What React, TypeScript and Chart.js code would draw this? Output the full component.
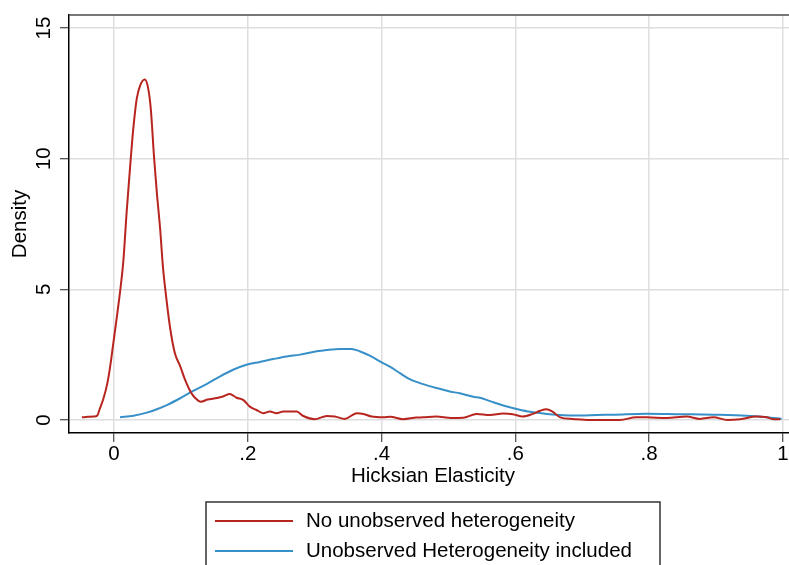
import React, { useEffect, useRef } from "react";
import { Chart, registerables } from "chart.js";

Chart.register(...registerables);

// Kernel density: no unobserved heterogeneity
const noHetX = [
  -0.048, -0.039, -0.03, -0.025, -0.021, -0.016, -0.01, -0.006, -0.0015, 0.004,
  0.009, 0.014, 0.019, 0.025, 0.029, 0.034, 0.039, 0.046, 0.051, 0.055,
  0.06, 0.064, 0.069, 0.073, 0.078, 0.084, 0.091, 0.099, 0.106, 0.114,
  0.121, 0.13, 0.14, 0.154, 0.163, 0.173, 0.183, 0.193, 0.203, 0.213,
  0.223, 0.233, 0.243, 0.253, 0.263, 0.273, 0.283, 0.3, 0.318, 0.33,
  0.345, 0.363, 0.373, 0.385, 0.403, 0.413, 0.432, 0.452, 0.462, 0.482,
  0.504, 0.522, 0.542, 0.562, 0.582, 0.596, 0.611, 0.626, 0.637, 0.646,
  0.655, 0.667, 0.686, 0.711, 0.756, 0.781, 0.796, 0.826, 0.856, 0.876,
  0.896, 0.917, 0.936, 0.961, 0.976, 0.985, 0.996,
];
const noHetDensity = [
  0.1, 0.12, 0.13, 0.17, 0.45, 0.8, 1.4, 2.0, 2.85, 3.9,
  4.9, 6.1, 8.0, 10.0, 11.2, 12.3, 12.8, 13.03, 12.7, 11.9,
  10.0, 8.7, 7.3, 5.9, 4.7, 3.5, 2.55, 2.05, 1.55, 1.1,
  0.85, 0.7, 0.78, 0.84, 0.9, 0.99, 0.85, 0.77, 0.51, 0.38,
  0.26, 0.32, 0.26, 0.32, 0.32, 0.32, 0.15, 0.03, 0.15, 0.13,
  0.04, 0.26, 0.23, 0.13, 0.1, 0.12, 0.03, 0.09, 0.1, 0.13,
  0.07, 0.08, 0.23, 0.19, 0.25, 0.22, 0.13, 0.23, 0.35, 0.41,
  0.33, 0.1, 0.04, 0.0, 0.0, 0.1, 0.1, 0.07, 0.13, 0.04,
  0.1, 0.0, 0.03, 0.13, 0.1, 0.03, 0.03,
];

// Kernel density: unobserved heterogeneity included
const hetX = [
  0.009, 0.029, 0.049, 0.064, 0.079, 0.099, 0.119, 0.139, 0.158, 0.178,
  0.198, 0.218, 0.238, 0.258, 0.278, 0.303, 0.318, 0.338, 0.355, 0.368,
  0.383, 0.398, 0.413, 0.428, 0.442, 0.462, 0.482, 0.502, 0.517, 0.537,
  0.547, 0.562, 0.582, 0.602, 0.622, 0.647, 0.672, 0.697, 0.722, 0.746,
  0.796, 0.846, 0.896, 0.946, 0.976, 0.998,
];
const hetDensity = [
  0.1, 0.16, 0.28, 0.41, 0.57, 0.83, 1.12, 1.38, 1.66, 1.92,
  2.11, 2.22, 2.33, 2.43, 2.5, 2.63, 2.68, 2.72, 2.72, 2.62,
  2.45, 2.23, 2.03, 1.78, 1.56, 1.37, 1.22, 1.09, 1.02, 0.89,
  0.85, 0.72, 0.55, 0.42, 0.31, 0.23, 0.18, 0.17, 0.19, 0.2,
  0.24, 0.22, 0.2, 0.16, 0.1, 0.04,
];

const xTickValues = [0, 0.2, 0.4, 0.6, 0.8, 1];
const xTickLabels = ["0", ".2", ".4", ".6", ".8", "1"];
const yTickValues = [0, 5, 10, 15];
const yTickLabels = ["0", "5", "10", "15"];

const seriesNames = ["No unobserved heterogeneity", "Unobserved Heterogeneity included"];
const seriesColors = ["#b8251f", "#3790c8"];

const FONT = "'Liberation Sans', Arial, Helvetica, sans-serif";
const FONT_SIZE = 20.5;

const pairs = (xs: number[], ys: number[]) => xs.map((x, i) => ({ x, y: ys[i] }));

// Rotated y tick labels, top frame line and the boxed legend below the plot
const decorations = {
  id: "decorations",
  afterDraw(chart: any) {
    const { ctx, chartArea, scales } = chart;
    const y = scales.y;
    ctx.save();

    ctx.fillStyle = "#000";
    ctx.font = `${FONT_SIZE}px ${FONT}`;
    ctx.textAlign = "center";
    ctx.textBaseline = "alphabetic";
    yTickValues.forEach((v, i) => {
      const py = y.getPixelForValue(v);
      ctx.save();
      ctx.translate(50, py);
      ctx.rotate(-Math.PI / 2);
      ctx.fillText(yTickLabels[i], 0, 0);
      ctx.restore();
    });

    ctx.strokeStyle = "#4a4a4a";
    ctx.lineWidth = 1.5;
    ctx.beginPath();
    ctx.moveTo(chartArea.left, chartArea.top);
    ctx.lineTo(chartArea.right, chartArea.top);
    ctx.stroke();

    // legend box
    const boxLeft = 206;
    const boxTop = 502;
    ctx.strokeStyle = "#333";
    ctx.lineWidth = 1.5;
    ctx.strokeRect(boxLeft, boxTop, 454, 90);
    seriesNames.forEach((name, i) => {
      const ly = 521 + i * 30;
      ctx.strokeStyle = seriesColors[i];
      ctx.lineWidth = 2;
      ctx.beginPath();
      ctx.moveTo(215, ly);
      ctx.lineTo(293, ly);
      ctx.stroke();
      ctx.fillStyle = "#000";
      ctx.textAlign = "left";
      ctx.textBaseline = "middle";
      ctx.fillText(name, 306, ly);
    });
    ctx.restore();
  },
};

export default function App() {
  const canvasRef = useRef<HTMLCanvasElement | null>(null);

  useEffect(() => {
    const canvas = canvasRef.current;
    if (!canvas) return;
    const chart = new Chart(canvas, {
      type: "line",
      data: {
        datasets: [
          {
            label: seriesNames[0],
            data: pairs(noHetX, noHetDensity),
            borderColor: seriesColors[0],
            borderWidth: 2,
            pointRadius: 0,
            fill: false,
            cubicInterpolationMode: "monotone",
          },
          {
            label: seriesNames[1],
            data: pairs(hetX, hetDensity),
            borderColor: seriesColors[1],
            borderWidth: 2,
            pointRadius: 0,
            fill: false,
            cubicInterpolationMode: "monotone",
          },
        ],
      },
      options: {
        responsive: false,
        animation: false,
        layout: { padding: { top: 15, left: 0, right: 3, bottom: 87 } },
        plugins: {
          legend: { display: false },
          tooltip: { enabled: false },
        },
        scales: {
          x: {
            type: "linear",
            min: -0.0673,
            max: 1.021,
            afterBuildTicks: (scale: any) => {
              scale.ticks = xTickValues.map((value) => ({ value }));
            },
            afterFit: (scale: any) => {
              scale.height = 60;
            },
            ticks: {
              color: "#000",
              font: { family: FONT, size: FONT_SIZE },
              padding: 0,
              maxRotation: 0,
              minRotation: 0,
              callback: (value: any) => {
                const idx = xTickValues.findIndex((v) => Math.abs(v - Number(value)) < 1e-9);
                return idx >= 0 ? xTickLabels[idx] : "";
              },
            },
            grid: {
              color: "#dedede",
              lineWidth: 1.5,
              drawTicks: true,
              tickLength: 9,
              tickColor: "#222",
              tickWidth: 1,
            },
            border: { display: true, color: "#000", width: 1.5 },
            title: {
              display: true,
              text: "Hicksian Elasticity",
              color: "#000",
              font: { family: FONT, size: FONT_SIZE },
              padding: { top: 0, bottom: 4 },
            },
          },
          y: {
            type: "linear",
            min: -0.5,
            max: 15.5,
            afterBuildTicks: (scale: any) => {
              scale.ticks = yTickValues.map((value) => ({ value }));
            },
            afterFit: (scale: any) => {
              scale.width = 69;
            },
            ticks: { display: false },
            grid: {
              color: "#dedede",
              lineWidth: 1.5,
              drawTicks: true,
              tickLength: 9,
              tickColor: "#222",
              tickWidth: 1,
            },
            border: { display: true, color: "#000", width: 1.5 },
            title: {
              display: true,
              text: "Density",
              color: "#000",
              font: { family: FONT, size: FONT_SIZE },
              padding: { top: 8, bottom: 0 },
            },
          },
        },
      },
      plugins: [decorations],
    });
    return () => chart.destroy();
  }, []);

  return (
    <div
      style={{
        position: "fixed",
        left: 0,
        top: 0,
        width: 789,
        height: 565,
        overflow: "hidden",
        background: "#fff",
      }}
    >
      <canvas ref={canvasRef} width={800} height={580} style={{ display: "block" }} />
    </div>
  );
}
